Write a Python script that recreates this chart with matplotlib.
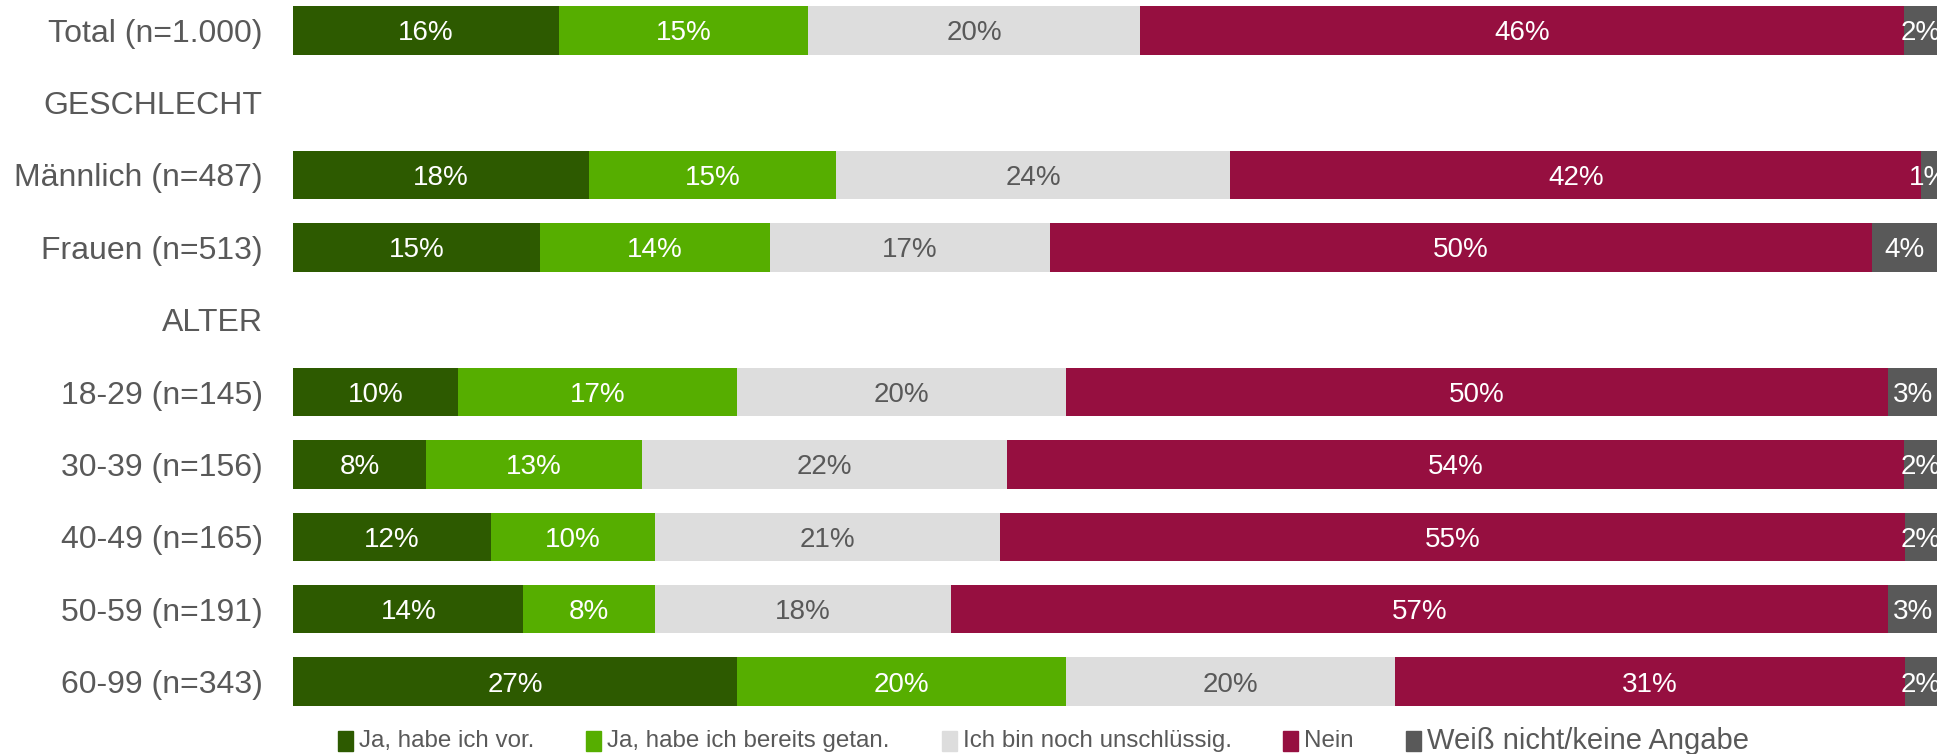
import numpy as np
import matplotlib
matplotlib.use("Agg")
import matplotlib.pyplot as plt
from matplotlib.patches import Rectangle

plt.rcParams['font.family'] = ['Liberation Sans', 'DejaVu Sans']

# row labels (headers have no bar)
rows = ['Total (n=1.000)', 'GESCHLECHT', 'Männlich (n=487)', 'Frauen (n=513)', 'ALTER',
        '18-29 (n=145)', '30-39 (n=156)', '40-49 (n=165)', '50-59 (n=191)', '60-99 (n=343)']

categories = ['Ja, habe ich vor.', 'Ja, habe ich bereits getan.', 'Ich bin noch unschlüssig.',
              'Nein', 'Weiß nicht/keine Angabe']

# values per bar row, order of categories
total    = [16, 15, 20, 46, 2]
maennl   = [18, 15, 24, 42, 1]
frauen   = [15, 14, 17, 50, 4]
a18_29   = [10, 17, 20, 50, 3]
a30_39   = [8, 13, 22, 54, 2]
a40_49   = [12, 10, 21, 55, 2]
a50_59   = [14, 8, 18, 57, 3]
a60_99   = [27, 20, 20, 31, 2]

data = {
    'Total (n=1.000)': total,
    'Männlich (n=487)': maennl,
    'Frauen (n=513)': frauen,
    '18-29 (n=145)': a18_29,
    '30-39 (n=156)': a30_39,
    '40-49 (n=165)': a40_49,
    '50-59 (n=191)': a50_59,
    '60-99 (n=343)': a60_99,
}

colors = ['#2D5A00', '#56AE00', '#DDDDDD', '#960F40', '#595959']
txt_colors = ['white', 'white', '#595959', 'white', 'white']
grey = '#595959'

fig = plt.figure(figsize=(19.55, 7.54), dpi=100)
ax = fig.add_axes([0.150, 0.064, 0.841, 0.928])

bar_h = 0.67
for i, name in enumerate(rows):
    if name not in data:
        continue
    vals = np.array(data[name], dtype=float)
    frac = vals / vals.sum()
    left = 0.0
    for j, (v, f) in enumerate(zip(vals, frac)):
        ax.barh(i, f, left=left, height=bar_h, color=colors[j], edgecolor='none')
        ax.text(left + f / 2, i, f'{int(v)}%', ha='center', va='center_baseline',
                fontsize=20, color=txt_colors[j], clip_on=True)
        left += f

ax.set_xlim(0, 1)
ax.set_ylim(len(rows) - 1 + bar_h / 2, -bar_h / 2)
ax.set_yticks(range(len(rows)))
ax.set_yticklabels(rows, fontsize=23, color=grey)
ax.tick_params(axis='y', length=0, pad=22)
ax.set_xticks([])
for s in ax.spines.values():
    s.set_visible(False)

# legend drawn by hand along the bottom
leg_x = [338, 586, 942, 1283, 1406]
leg_sizes = [17.4, 17.4, 17.4, 17.4, 21]
yc = 1 - 741 / 754
for j, cat in enumerate(categories):
    x0 = leg_x[j] / 1955
    fig.patches.append(Rectangle((x0, yc - 10 / 754), 15 / 1955, 20 / 754,
                                 transform=fig.transFigure, color=colors[j]))
    fig.text(x0 + 21 / 1955, yc, cat, ha='left', va='center',
             fontsize=leg_sizes[j], color=grey)

fig.savefig('out.png', dpi=100)
